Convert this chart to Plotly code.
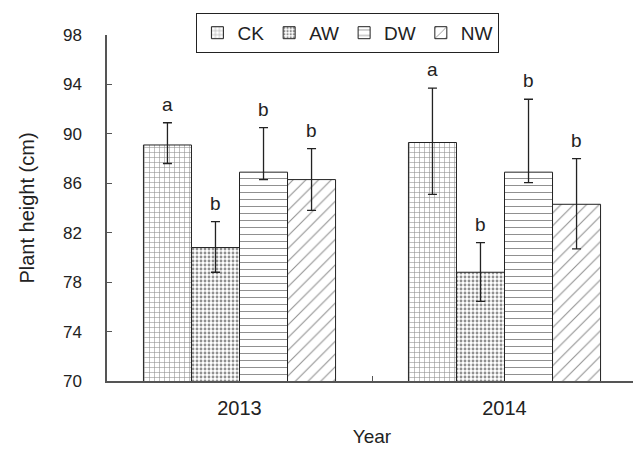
import plotly.graph_objects as go

years = ["2013", "2014"]
treatments = ["CK", "AW", "DW", "NW"]
means = {
    "CK": [89.1, 89.3],
    "AW": [80.8, 78.8],
    "DW": [86.9, 86.9],
    "NW": [86.3, 84.3],
}
err_plus = {
    "CK": [1.8, 4.4],
    "AW": [2.1, 2.4],
    "DW": [3.6, 5.9],
    "NW": [2.5, 3.7],
}
err_minus = {
    "CK": [1.5, 4.2],
    "AW": [2.0, 2.35],
    "DW": [0.6, 0.85],
    "NW": [2.5, 3.6],
}
letters = {
    "CK": ["a", "a"],
    "AW": ["b", "b"],
    "DW": ["b", "b"],
    "NW": ["b", "b"],
}
y_ticks = [70, 74, 78, 82, 86, 90, 94, 98]

patterns = {
    "CK": dict(shape="+", size=5, solidity=0.22),
    "AW": dict(shape=".", size=4, solidity=0.4),
    "DW": dict(shape="-", size=7, solidity=0.15),
    "NW": dict(shape="/", size=9, solidity=0.12),
}

FONT = "Liberation Sans, Arial, Helvetica, sans-serif"
INK = "#222"
fig = go.Figure()
for t in treatments:
    p = patterns[t]
    fig.add_trace(go.Bar(
        name=t, x=years, y=means[t],
        marker=dict(color="white", line=dict(color=INK, width=1),
                    pattern=dict(shape=p["shape"], size=p["size"], solidity=p["solidity"],
                                 fgcolor=INK, bgcolor="white", fillmode="overlay")),
        error_y=dict(type="data", symmetric=False, array=err_plus[t], arrayminus=err_minus[t],
                     color=INK, thickness=1.3, width=4.5),
        offsetgroup=t,
    ))

n = len(treatments)
group_w = 1 - 0.275
bw = group_w / n
for i, t in enumerate(treatments):
    for j, yr in enumerate(years):
        xpos = j - group_w / 2 + bw * (i + 0.5)
        fig.add_annotation(x=xpos, xref="x", y=means[t][j] + err_plus[t][j], yref="y",
                           text=letters[t][j], showarrow=False, yanchor="bottom", yshift=6,
                           font=dict(size=19, color=INK, family=FONT))

# page has an 8px body margin, so the figure is sized/margined to compensate
fig.update_layout(
    width=633, height=441,
    margin=dict(l=99, r=4, t=27, b=68, autoexpand=False),
    paper_bgcolor="white", plot_bgcolor="white",
    barmode="group", bargap=0.275, bargroupgap=0,
    font=dict(family=FONT, size=16, color=INK),
    showlegend=True,
    legend=dict(orientation="h", x=0.537, xref="container", xanchor="center",
                y=0.989, yref="container", yanchor="top",
                bordercolor=INK, borderwidth=1, bgcolor="white",
                font=dict(size=19, family=FONT), tracegroupgap=0, itemwidth=30),
    xaxis=dict(type="category", range=[-0.5, 1.5], showline=True, linecolor="#555", linewidth=1.5,
               ticks="inside", tickson="boundaries", ticklen=5, tickcolor="#555",
               tickfont=dict(size=20), ticklabelstandoff=8, automargin=False,
               title=dict(text="Year", font=dict(size=19), standoff=12),
               showgrid=False),
    yaxis=dict(range=[70, 98], tickvals=y_ticks, showline=True, linecolor="#555", linewidth=1.5,
               ticks="inside", ticklen=5, tickcolor="#555", showgrid=False, zeroline=False,
               tickfont=dict(size=17), ticklabelstandoff=20, automargin=False,
               title=dict(text="Plant height (cm)", font=dict(size=20), standoff=23)),
)

fig.write_html("out.html")
